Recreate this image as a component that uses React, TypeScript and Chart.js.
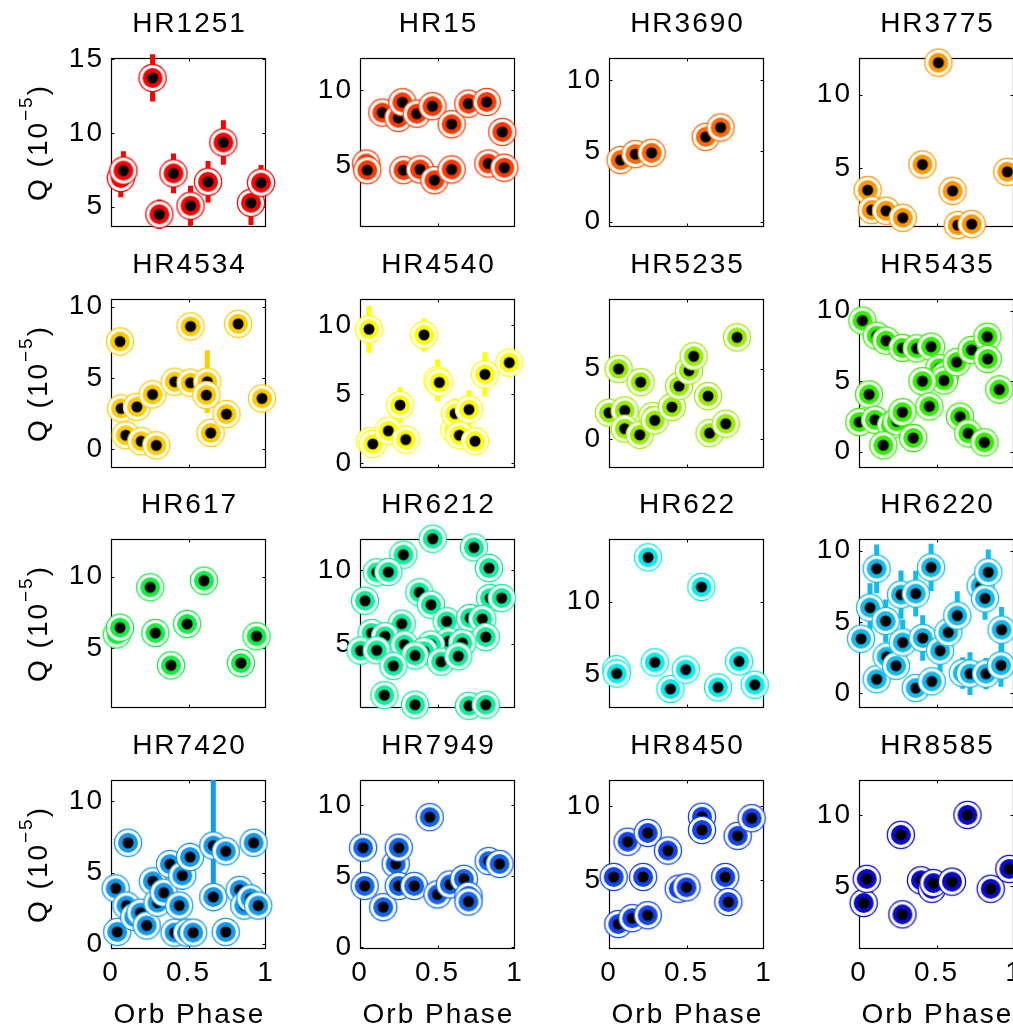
import React, { useEffect, useRef } from 'react';
import { Chart, registerables } from 'chart.js';
Chart.register(...registerables);

const FONT = '"Liberation Sans", Arial, Helvetica, sans-serif';
const FONT_SIZE = 28;
const LETTER_SPACING = '2px';

const panelNames = ['HR1251', 'HR15', 'HR3690', 'HR3775', 'HR4534', 'HR4540', 'HR5235', 'HR5435', 'HR617', 'HR6212', 'HR622', 'HR6220', 'HR7420', 'HR7949', 'HR8450', 'HR8585'];
const panelColors = ['#ff0000', '#ff3a00', '#ff6a00', '#ff9900', '#ffcc00', '#ffff00', '#99ee00', '#33ee00', '#11ee44', '#11ee99', '#00eeee', '#11bbee', '#1199ee', '#1166ee', '#1144ee', '#0a0acc'];

const yMins = [3.63, 0.95, -0.37, 0.96, -1.31, -0.34, -2.02, -1.16, 0.83, 0.68, 2.68, -1.03, -0.35, -0.15, 0.3, 0.56];
const yMaxs = [15.07, 12.13, 11.57, 12.5, 10.54, 11.88, 9.93, 10.83, 12.63, 12.1, 14.3, 10.82, 11.5, 11.77, 11.8, 12.46];
const yTickValues = [[5, 10, 15], [5, 10], [0, 5, 10], [5, 10], [0, 5, 10], [0, 5, 10], [0, 5], [0, 5, 10], [5, 10], [5, 10], [5, 10], [0, 5, 10], [0, 5, 10], [0, 5, 10], [5, 10], [5, 10]];
const xTickValues = [0, 0.5, 1];
const xTickLabels = ['0', '0.5', '1'];
const xAxisTitle = 'Orb Phase';
const yAxisTitleMain = 'Q (10';
const yAxisTitleSup = '\u22125';
const yAxisTitleEnd = ')';

// ---- data: orbital phase, Q (1e-5), error ----
const hr1251Phase = [0.063, 0.08, 0.268, 0.312, 0.403, 0.513, 0.626, 0.725, 0.903, 0.968];
const hr1251Q = [6.95, 7.45, 13.72, 4.49, 7.26, 5.07, 6.69, 9.35, 5.27, 6.63];
const hr1251Err = [1.3, 1.3, 1.6, 1.0, 1.35, 1.35, 1.4, 1.5, 1.5, 1.2];

const hr15Phase = [0.144, 0.247, 0.273, 0.366, 0.467, 0.591, 0.699, 0.817, 0.918, 0.04, 0.047, 0.28, 0.387, 0.48, 0.591, 0.828, 0.931];
const hr15Q = [8.52, 8.17, 9.2, 8.45, 8.94, 7.75, 9.11, 9.22, 7.24, 5.15, 4.71, 4.71, 4.76, 4.05, 4.76, 5.15, 4.87];
const hr15Err = [0.4, 0.4, 0.4, 0.4, 0.4, 0.4, 0.4, 0.4, 0.4, 0.4, 0.4, 0.4, 0.4, 0.4, 0.4, 0.4, 0.4];

const hr3690Phase = [0.075, 0.17, 0.275, 0.624, 0.72];
const hr3690Q = [4.36, 4.78, 4.87, 6.0, 6.66];
const hr3690Err = [0.3, 0.3, 0.3, 0.3, 0.3];

const hr3775Phase = [0.056, 0.082, 0.174, 0.282, 0.409, 0.512, 0.604, 0.637, 0.727, 0.957];
const hr3775Q = [3.48, 2.12, 2.07, 1.59, 5.23, 12.18, 3.43, 1.09, 1.16, 4.73];
const hr3775Err = [0.4, 0.4, 0.4, 0.4, 0.4, 0.4, 0.4, 0.4, 0.4, 0.4];

const hr4534Phase = [0.058, 0.065, 0.095, 0.167, 0.195, 0.268, 0.292, 0.411, 0.513, 0.513, 0.621, 0.615, 0.643, 0.745, 0.82, 0.974];
const hr4534Q = [7.56, 2.87, 0.99, 2.98, 0.57, 3.85, 0.28, 4.74, 4.67, 8.62, 4.74, 3.8, 1.15, 2.47, 8.8, 3.57];
const hr4534Err = [0.4, 0.4, 0.4, 0.4, 0.4, 0.4, 0.4, 0.4, 0.4, 0.4, 2.2, 0.4, 0.4, 0.4, 0.4, 0.4];

const hr4540Phase = [0.058, 0.065, 0.082, 0.183, 0.258, 0.295, 0.413, 0.5, 0.512, 0.609, 0.613, 0.641, 0.703, 0.742, 0.806, 0.963];
const hr4540Q = [9.7, 1.6, 1.4, 2.35, 4.21, 1.72, 9.29, 6.0, 5.85, 2.44, 3.6, 2.03, 3.89, 1.6, 6.43, 7.28];
const hr4540Err = [1.7, 0.6, 0.5, 0.5, 1.3, 0.4, 1.2, 1.5, 0.6, 0.5, 1.1, 0.4, 1.4, 0.4, 1.6, 1.0];

const hr5235Phase = [0.0, 0.062, 0.101, 0.101, 0.198, 0.204, 0.28, 0.295, 0.406, 0.452, 0.516, 0.546, 0.639, 0.649, 0.753, 0.826];
const hr5235Q = [1.89, 4.99, 2.05, 0.76, 0.33, 4.05, 1.65, 1.35, 2.29, 3.77, 4.87, 5.88, 3.06, 0.45, 1.11, 7.22];
const hr5235Err = [0.4, 0.4, 0.4, 0.4, 0.4, 0.4, 0.4, 0.4, 0.4, 0.4, 0.4, 0.4, 0.8, 0.4, 0.4, 0.4];

const hr5435Phase = [0.022, 0.114, 0.174, 0.28, 0.372, 0.465, 0.518, 0.555, 0.548, 0.63, 0.727, 0.828, 0.83, 0.905, 0.409, 0.454, 0.065, 0.002, 0.103, 0.206, 0.243, 0.28, 0.157, 0.35, 0.652, 0.705, 0.809];
const hr5435Q = [9.3, 8.23, 7.88, 7.36, 7.33, 7.45, 5.92, 5.4, 5.05, 6.35, 7.22, 8.16, 6.58, 4.41, 5.0, 3.21, 4.06, 2.1, 2.26, 1.86, 2.15, 2.8, 0.45, 0.97, 2.48, 1.3, 0.66];
const hr5435Err = [0.5, 0.5, 0.5, 0.5, 0.5, 0.5, 0.5, 0.5, 0.5, 0.5, 0.5, 0.5, 0.5, 1.0, 0.5, 0.5, 0.5, 0.5, 0.5, 0.5, 0.5, 0.5, 0.5, 0.5, 0.5, 0.5, 0.5];

const hr617Phase = [0.037, 0.058, 0.253, 0.286, 0.387, 0.491, 0.6, 0.838, 0.939];
const hr617Q = [5.97, 6.44, 9.26, 6.07, 3.81, 6.7, 9.72, 3.97, 5.84];
const hr617Err = [0.4, 0.4, 0.4, 0.4, 0.4, 0.4, 0.4, 0.4, 0.4];

const hr6212Phase = [0.469, 0.735, 0.28, 0.108, 0.183, 0.832, 0.032, 0.383, 0.458, 0.839, 0.914, 0.559, 0.71, 0.789, 0.269, 0.075, 0.161, 0.811, 0.004, 0.108, 0.286, 0.57, 0.66, 0.458, 0.413, 0.355, 0.523, 0.634, 0.215, 0.157, 0.355, 0.703, 0.811];
const hr6212Q = [12.12, 11.53, 11.04, 9.85, 9.87, 10.14, 7.93, 8.5, 7.66, 8.11, 8.11, 6.54, 6.77, 6.7, 6.38, 5.75, 5.53, 5.48, 4.56, 4.58, 4.97, 5.19, 5.08, 4.97, 4.52, 4.23, 3.81, 4.18, 3.53, 1.55, 0.9, 0.83, 0.9];
const hr6212Err = [0.6, 0.6, 0.6, 0.6, 0.6, 0.6, 0.6, 0.6, 0.6, 0.6, 0.6, 0.6, 0.6, 0.6, 0.6, 0.6, 0.6, 0.6, 0.6, 0.6, 0.6, 0.6, 0.6, 0.6, 0.6, 0.6, 0.6, 0.6, 0.6, 0.6, 0.6, 0.6, 0.6];

const hr622Phase = [0.047, 0.05, 0.252, 0.295, 0.396, 0.495, 0.596, 0.703, 0.839, 0.94];
const hr622Q = [5.35, 5.05, 13.04, 5.82, 3.99, 5.32, 11.0, 4.1, 5.89, 4.28];
const hr622Err = [0.5, 0.4, 0.4, 0.4, 0.4, 0.4, 0.4, 0.4, 0.4, 0.4];

const hr6220Phase = [0.013, 0.071, 0.114, 0.114, 0.172, 0.178, 0.239, 0.271, 0.282, 0.366, 0.366, 0.411, 0.465, 0.469, 0.523, 0.576, 0.634, 0.669, 0.716, 0.785, 0.813, 0.819, 0.834, 0.916, 0.92];
const hr6220Q = [3.83, 6.01, 8.74, 0.99, 5.07, 2.57, 1.93, 6.92, 3.57, 6.99, 0.37, 3.88, 8.83, 0.84, 2.99, 4.28, 5.45, 1.42, 1.38, 7.53, 6.66, 1.38, 8.49, 1.96, 4.46];
const hr6220Err = [0.6, 1.7, 1.7, 0.8, 1.5, 0.9, 0.9, 1.7, 1.6, 1.6, 0.7, 1.6, 1.65, 0.8, 1.5, 1.0, 1.7, 1.1, 1.5, 1.5, 1.5, 1.1, 1.6, 1.5, 1.6];

const hr7420Phase = [0.03, 0.04, 0.11, 0.1, 0.15, 0.19, 0.23, 0.27, 0.3, 0.34, 0.38, 0.41, 0.44, 0.46, 0.49, 0.51, 0.53, 0.66, 0.66, 0.74, 0.74, 0.83, 0.86, 0.9, 0.92, 0.95];
const hr7420Q = [3.9, 0.85, 7.1, 2.7, 1.9, 2.2, 1.3, 4.4, 2.9, 3.6, 5.6, 0.8, 2.7, 4.8, 0.8, 6.1, 0.8, 6.9, 3.3, 0.85, 6.5, 3.8, 2.7, 3.2, 7.1, 2.7];
const hr7420Err = [0.5, 0.5, 0.9, 0.5, 0.5, 0.5, 0.5, 0.9, 0.5, 0.5, 1.0, 0.5, 0.5, 1.0, 0.5, 1.0, 0.5, 4.6, 0.9, 0.5, 0.8, 0.8, 0.5, 0.5, 0.8, 0.5];

const hr7949Phase = [0.02, 0.03, 0.15, 0.23, 0.25, 0.25, 0.35, 0.45, 0.5, 0.58, 0.67, 0.7, 0.7, 0.83, 0.9];
const hr7949Q = [7.0, 4.3, 2.8, 5.85, 7.0, 4.3, 4.3, 9.15, 3.7, 4.4, 4.8, 3.6, 3.2, 6.05, 5.85];
const hr7949Err = [0.9, 0.5, 0.5, 0.5, 0.8, 0.5, 0.5, 0.5, 0.5, 0.5, 0.5, 0.5, 0.5, 0.5, 0.5];

const hr8450Phase = [0.03, 0.06, 0.12, 0.15, 0.22, 0.25, 0.25, 0.38, 0.45, 0.5, 0.6, 0.6, 0.75, 0.77, 0.83, 0.92];
const hr8450Q = [5.2, 2.0, 7.6, 2.4, 5.2, 8.2, 2.6, 7.0, 4.4, 4.5, 9.3, 8.4, 5.2, 3.5, 8.0, 9.2];
const hr8450Err = [0.9, 0.6, 0.6, 0.6, 0.9, 0.6, 0.6, 0.6, 0.6, 0.6, 0.9, 0.6, 0.9, 0.6, 0.6, 0.6];

const hr8585Phase = [0.03, 0.05, 0.27, 0.28, 0.4, 0.47, 0.48, 0.6, 0.7, 0.85, 0.97];
const hr8585Q = [3.8, 5.5, 8.6, 3.0, 5.4, 4.8, 5.2, 5.3, 10.0, 4.8, 6.2];
const hr8585Err = [0.9, 0.9, 0.9, 0.9, 0.9, 0.9, 0.6, 0.9, 0.9, 0.9, 0.9];

const panelPhases = [hr1251Phase, hr15Phase, hr3690Phase, hr3775Phase, hr4534Phase, hr4540Phase, hr5235Phase, hr5435Phase, hr617Phase, hr6212Phase, hr622Phase, hr6220Phase, hr7420Phase, hr7949Phase, hr8450Phase, hr8585Phase];
const panelQs = [hr1251Q, hr15Q, hr3690Q, hr3775Q, hr4534Q, hr4540Q, hr5235Q, hr5435Q, hr617Q, hr6212Q, hr622Q, hr6220Q, hr7420Q, hr7949Q, hr8450Q, hr8585Q];
const panelErrs = [hr1251Err, hr15Err, hr3690Err, hr3775Err, hr4534Err, hr4540Err, hr5235Err, hr5435Err, hr617Err, hr6212Err, hr622Err, hr6220Err, hr7420Err, hr7949Err, hr8450Err, hr8585Err];

// ---- layout ----
const COL_LEFT = [111, 360, 609, 859];
const ROW_TOP = [58, 299, 539, 780];
const PLOT_W = 155;
const PLOT_H = 169;
const AXIS_W = 111;
const PAD_TOP = 58;
const PAD_RIGHT = 40;

function makeMarker(color: string): HTMLCanvasElement {
  const c = document.createElement('canvas');
  c.width = 32;
  c.height = 32;
  const g = c.getContext('2d')!;
  g.beginPath();
  g.arc(16, 16, 13.6, 0, Math.PI * 2);
  g.fillStyle = '#ffffff';
  g.fill();
  g.lineWidth = 1.3;
  g.strokeStyle = color;
  g.stroke();
  g.beginPath();
  g.arc(16, 16, 10, 0, Math.PI * 2);
  g.fillStyle = color;
  g.fill();
  g.beginPath();
  g.arc(16, 16, 5.5, 0, Math.PI * 2);
  g.fillStyle = '#000000';
  g.fill();
  return c;
}

const decorPlugin = {
  id: 'decor',
  beforeDraw(chart: any) {
    chart.ctx.letterSpacing = LETTER_SPACING;
  },
  beforeDatasetsDraw(chart: any, _args: any, opts: any) {
    const { ctx, chartArea: a, scales } = chart;
    ctx.save();
    ctx.strokeStyle = '#000';
    ctx.lineWidth = 1.2;
    const L = Math.round(a.left) + 0.5, T = Math.round(a.top) + 0.5;
    const R = Math.round(a.right) - 0.5, B = Math.round(a.bottom) - 0.5;
    ctx.strokeRect(L, T, R - L, B - T);
    ctx.lineWidth = 1;
    ctx.beginPath();
    for (const t of opts.yTicks) {
      const py = Math.round(scales.y.getPixelForValue(t)) + 0.5;
      ctx.moveTo(L, py); ctx.lineTo(L + 3, py);
      ctx.moveTo(R, py); ctx.lineTo(R - 3, py);
    }
    for (const t of xTickValues) {
      const px = Math.round(scales.x.getPixelForValue(t)) + 0.5;
      if (px > L + 2 && px < R - 2) {
        ctx.moveTo(px, B); ctx.lineTo(px, B - 3);
        ctx.moveTo(px, T); ctx.lineTo(px, T + 3);
      }
    }
    ctx.stroke();
    ctx.restore();
  },
  afterDraw(chart: any, _args: any, opts: any) {
    const { ctx, chartArea: a } = chart;
    ctx.save();
    ctx.letterSpacing = LETTER_SPACING;
    ctx.fillStyle = '#000';
    ctx.textBaseline = 'alphabetic';
    ctx.font = `${FONT_SIZE}px ${FONT}`;
    ctx.textAlign = 'center';
    const cx = (a.left + a.right) / 2 + 1;
    ctx.fillText(opts.title, cx, a.top - 26);
    if (opts.xLabel) {
      ctx.fillText(xAxisTitle, cx, a.bottom + 74);
    }
    if (opts.yLabel) {
      ctx.textAlign = 'left';
      ctx.font = `${FONT_SIZE}px ${FONT}`;
      const w1 = ctx.measureText(yAxisTitleMain).width;
      const w3 = ctx.measureText(yAxisTitleEnd).width;
      ctx.font = `19px ${FONT}`;
      const w2 = ctx.measureText(yAxisTitleSup).width;
      const total = w1 + w2 + w3;
      ctx.translate(a.left - 64, (a.top + a.bottom) / 2);
      ctx.rotate(-Math.PI / 2);
      const x0 = -total / 2;
      ctx.font = `${FONT_SIZE}px ${FONT}`;
      ctx.fillText(yAxisTitleMain, x0, 0);
      ctx.font = `19px ${FONT}`;
      ctx.fillText(yAxisTitleSup, x0 + w1, -15);
      ctx.font = `${FONT_SIZE}px ${FONT}`;
      ctx.fillText(yAxisTitleEnd, x0 + w1 + w2, 0);
    }
    ctx.restore();
  },
};

function Panel({ idx }: { idx: number }) {
  const ref = useRef<HTMLCanvasElement>(null);
  const row = Math.floor(idx / 4);
  const col = idx % 4;
  const bottomRow = row === 3;
  const below = bottomRow ? 85 : 40;
  const width = AXIS_W + PLOT_W + PAD_RIGHT;
  const height = PAD_TOP + PLOT_H + below;
  const left = COL_LEFT[col] - AXIS_W;
  const top = ROW_TOP[row] - PAD_TOP;

  useEffect(() => {
    const color = panelColors[idx];
    const phase = panelPhases[idx];
    const q = panelQs[idx];
    const err = panelErrs[idx];
    const marker = makeMarker(color);
    const points = phase.map((x, i) => ({ x, y: q[i] }));
    const bars: any[] = [];
    phase.forEach((x, i) => {
      bars.push({ x, y: q[i] - err[i] });
      bars.push({ x, y: q[i] + err[i] });
      bars.push({ x, y: null });
    });
    const yTicks = yTickValues[idx];
    const chart = new Chart(ref.current!, {
      type: 'scatter',
      data: {
        datasets: [
          {
            type: 'line',
            data: bars,
            borderColor: color,
            borderWidth: 5,
            borderCapStyle: 'butt',
            pointRadius: 0,
            spanGaps: false,
            fill: false,
            clip: false,
            order: 2,
          } as any,
          {
            type: 'scatter',
            data: points,
            pointStyle: marker,
            pointRadius: 14,
            clip: false,
            order: 1,
          } as any,
        ],
      },
      options: {
        responsive: false,
        animation: false,
        events: [],
        layout: {
          autoPadding: false,
          padding: { left: 0, top: PAD_TOP, right: PAD_RIGHT, bottom: 0 },
        },
        plugins: {
          legend: { display: false },
          tooltip: { enabled: false },
          decor: { title: panelNames[idx], yTicks, yLabel: col === 0, xLabel: bottomRow },
        } as any,
        scales: {
          x: {
            type: 'linear',
            position: 'bottom',
            min: 0,
            max: 1,
            grid: { display: false, drawTicks: false },
            border: { display: false },
            afterBuildTicks: (s: any) => {
              s.ticks = xTickValues.map((v) => ({ value: v }));
            },
            afterFit: (s: any) => {
              s.height = below;
            },
            ticks: {
              display: bottomRow,
              autoSkip: false,
              maxRotation: 0,
              minRotation: 0,
              padding: 7,
              color: '#000',
              font: { family: FONT, size: FONT_SIZE },
              callback: (v: any) => xTickLabels[xTickValues.indexOf(Number(v))] ?? '',
            },
          },
          y: {
            type: 'linear',
            position: 'left',
            min: yMins[idx],
            max: yMaxs[idx],
            grid: { display: false, drawTicks: false },
            border: { display: false },
            afterBuildTicks: (s: any) => {
              s.ticks = yTicks.map((v) => ({ value: v }));
            },
            afterFit: (s: any) => {
              s.width = AXIS_W;
            },
            ticks: {
              padding: 7,
              color: '#000',
              font: { family: FONT, size: FONT_SIZE },
              callback: (v: any) => String(v),
            },
          },
        },
      } as any,
      plugins: [decorPlugin as any],
    });
    return () => chart.destroy();
  }, [idx]);

  return (
    <canvas
      ref={ref}
      width={width}
      height={height}
      style={{ position: 'absolute', left, top, width, height }}
    />
  );
}

export default function App() {
  return (
    <div
      style={{
        position: 'fixed',
        left: 0,
        top: 0,
        width: 1013,
        height: 1027,
        overflow: 'hidden',
        background: '#ffffff',
      }}
    >
      {panelNames.map((_, i) => (
        <Panel key={i} idx={i} />
      ))}
    </div>
  );
}
